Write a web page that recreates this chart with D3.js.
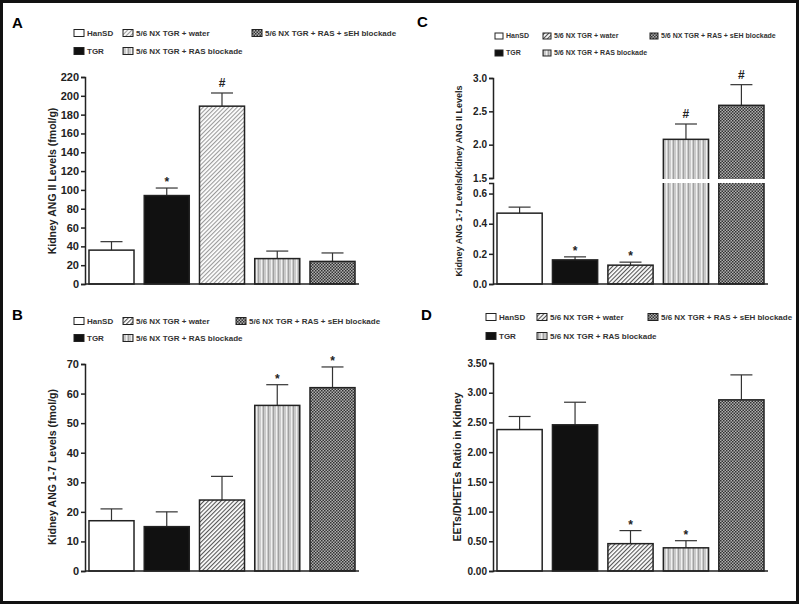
<!DOCTYPE html>
<html><head><meta charset="utf-8">
<script src="https://cdn.jsdelivr.net/npm/d3@7"></script>
<style>
body{margin:0;background:#fff;}
text{font-family:"Liberation Sans",Arial,sans-serif;}
</style></head>
<body><svg id="c" width="800" height="605"></svg>
<script>
const groups = ["HanSD","TGR","5/6 NX TGR + water","5/6 NX TGR + RAS blockade","5/6 NX TGR + RAS + sEH blockade"];
const angII = [36, 94, 189, 27, 24];
const angIIErr = [9, 8, 14, 8, 9];
const angIISig = ["", "*", "#", "", ""];
const ang17 = [17, 15, 24, 56, 62];
const ang17Err = [4, 5, 8, 7, 7];
const ang17Sig = ["", "", "", "*", "*"];
const ratio = [0.47, 0.16, 0.125, 2.08, 2.59];
const ratioErr = [0.04, 0.02, 0.02, 0.23, 0.31];
const ratioSig = ["", "*", "*", "#", "#"];
const eets = [2.38, 2.46, 0.46, 0.39, 2.88];
const eetsErr = [0.22, 0.38, 0.22, 0.12, 0.42];
const eetsSig = ["", "", "*", "*", ""];
const ticksA = [0,20,40,60,80,100,120,140,160,180,200,220];
const ticksB = [0,10,20,30,40,50,60,70];
const ticksCLow = [0,0.2,0.4,0.6];
const ticksCHigh = [1.5,2.0,2.5,3.0];
const ticksD = [0,0.5,1,1.5,2,2.5,3,3.5];

const svg = d3.select("#c");
const defs = svg.append("defs");
function diag(id, col){
  const p = defs.append("pattern").attr("id",id).attr("patternUnits","userSpaceOnUse").attr("width",3).attr("height",3).attr("patternTransform","rotate(45)");
  p.append("rect").attr("width",3).attr("height",3).attr("fill","#fff");
  p.append("rect").attr("x",0).attr("width",1.1).attr("height",3).attr("fill",col);
}
diag("diagL","#9a9a9a"); diag("diagD","#555");
{
  const p = defs.append("pattern").attr("id","vert").attr("patternUnits","userSpaceOnUse").attr("width",5).attr("height",5);
  p.append("rect").attr("width",5).attr("height",5).attr("fill","#cacaca");
  p.append("rect").attr("x",1).attr("width",1).attr("height",5).attr("fill","#f0f0f0");
  p.append("rect").attr("x",3).attr("width",1).attr("height",5).attr("fill","#a0a0a0");
}
{
  const p = defs.append("pattern").attr("id","check").attr("patternUnits","userSpaceOnUse").attr("width",3).attr("height",3);
  p.append("rect").attr("width",3).attr("height",3).attr("fill","#b0b0b0");
  p.append("rect").attr("width",1.5).attr("height",1.5).attr("fill","#333");
  p.append("rect").attr("x",1.5).attr("y",1.5).attr("width",1.5).attr("height",1.5).attr("fill","#333");
}
function fills(d){ return ["#fff","#111","url(#"+d+")","url(#vert)","url(#check)"]; }

svg.append("rect").attr("x",1.5).attr("y",1.5).attr("width",796).attr("height",601).attr("fill","none").attr("stroke","#111").attr("stroke-width",3);

function legend(g, cols, rows, fs, sw, sh){
  const pos = [[0,0],[0,1],[1,0],[1,1],[2,0]];
  groups.forEach((name,i)=>{
    const [c,r] = pos[i];
    const x = cols[c], y = rows[r];
    g.append("rect").attr("x",x).attr("y",y-sh/2).attr("width",sw).attr("height",sh)
      .attr("fill",g.fillsArr[i]).attr("stroke","#222").attr("stroke-width",1);
    g.append("text").attr("x",x+sw+3).attr("y",y).attr("dy","0.35em")
      .attr("font-size",fs).attr("font-weight","bold").attr("fill","#333").text(name);
  });
}

function panel(o){
  const g = svg.append("g");
  g.fillsArr = fills(o.diag);
  g.append("text").attr("x",o.lx).attr("y",o.ly).attr("font-size",15).attr("font-weight","bold").text(o.letter);
  legend(g, o.legCols, o.legRows, o.legFs, o.sw, o.sh);
  const x = d3.scaleBand().domain(groups).range([o.x0, o.x1]).paddingInner(0.185).paddingOuter(0.072);
  const scales = o.scales;
  scales.forEach(s=>{
    const ax = d3.axisLeft(s.y).tickValues(s.ticks).tickFormat(d3.format(s.fmt)).tickSize(4).tickPadding(2);
    const a = g.append("g").attr("transform",`translate(${o.x0},0)`).call(ax);
    a.selectAll("text").attr("font-size",o.tfs).attr("font-weight","bold").attr("fill","#222").attr("font-family","Liberation Sans, Arial, sans-serif");
    a.selectAll("path,line").attr("stroke","#222").attr("stroke-width",1.5);
  });
  const ybase = scales[0].y(0);
  const vals = o.vals;
  vals.forEach((v,i)=>{
    const bx = x(groups[i]), bw = x.bandwidth();
    const top = o.valY(v), errTop = o.valY(v + o.errs[i]);
    const cx = bx + bw/2;
    g.append("line").attr("x1",cx).attr("x2",cx).attr("y1",top).attr("y2",errTop).attr("stroke","#333").attr("stroke-width",1.2);
    g.append("line").attr("x1",cx-11).attr("x2",cx+11).attr("y1",errTop).attr("y2",errTop).attr("stroke","#333").attr("stroke-width",1.2);
    g.append("rect").attr("x",bx).attr("y",top).attr("width",bw).attr("height",ybase-top)
      .attr("fill",g.fillsArr[i]).attr("stroke","#222").attr("stroke-width",1.5);
    if (o.split && v > o.split.lowMax){
      const lt = o.split.lowY(o.split.lowMax);
      g.append("rect").attr("x",bx-2).attr("y",o.split.gapTop).attr("width",bw+4).attr("height",lt-o.split.gapTop)
        .attr("fill","#fff");
    }
    const s = o.sig[i];
    if (s){
      g.append("text").attr("x",cx).attr("y", s==="*" ? errTop-2 : errTop-6).attr("text-anchor","middle")
        .attr("font-size",12).attr("font-weight","bold").attr("fill","#222").text(s);
    }
  });
  g.append("line").attr("x1",o.x0).attr("x2",o.x1).attr("y1",ybase).attr("y2",ybase).attr("stroke","#222").attr("stroke-width",1.5);
  g.append("text").attr("transform",`translate(${o.ylx},${o.ylc}) rotate(-90)`).attr("text-anchor","middle").attr("dy","0.35em")
    .attr("font-size",o.ylfs).attr("font-weight","bold").attr("fill","#222").text(o.ylabel);
}

const yA = d3.scaleLinear().domain([0,220]).range([284,77]);
panel({letter:"A",lx:12,ly:28,diag:"diagL",legCols:[74,123,252],legRows:[33,51],legFs:8,sw:10,sh:7,
  x0:85,x1:359,scales:[{y:yA,ticks:ticksA,fmt:"d"}],tfs:11,vals:angII,errs:angIIErr,sig:angIISig,
  valY:v=>yA(v),ylx:52,ylc:181,ylfs:10.5,ylabel:"Kidney ANG II Levels (fmol/g)"});

const yB = d3.scaleLinear().domain([0,70]).range([571,364]);
panel({letter:"B",lx:12,ly:320,diag:"diagD",legCols:[74,123,236],legRows:[321,338],legFs:8,sw:10,sh:7,
  x0:85,x1:359,scales:[{y:yB,ticks:ticksB,fmt:"d"}],tfs:11,vals:ang17,errs:ang17Err,sig:ang17Sig,
  valY:v=>yB(v),ylx:52,ylc:467,ylfs:10.5,ylabel:"Kidney ANG 1-7 Levels (fmol/g)"});

const yCl = d3.scaleLinear().domain([0,0.67]).range([284,183]);
const yCh = d3.scaleLinear().domain([1.5,3.0]).range([178,78]);
panel({letter:"C",lx:417,ly:27,diag:"diagD",legCols:[495,543,650],legRows:[36,53],legFs:7,sw:8,sh:6,
  x0:493,x1:768,scales:[{y:yCl,ticks:ticksCLow,fmt:".1f"},{y:yCh,ticks:ticksCHigh,fmt:".1f"}],tfs:10,
  vals:ratio,errs:ratioErr,sig:ratioSig,valY:v=>v>0.67?yCh(v):yCl(v),
  split:{lowMax:0.67,lowY:yCl,gapTop:179},
  ylx:459,ylc:181,ylfs:9,ylabel:"Kidney ANG 1-7 Levels/Kidney ANG II Levels"});

const yD = d3.scaleLinear().domain([0,3.5]).range([571,363]);
panel({letter:"D",lx:421,ly:320,diag:"diagD",legCols:[486,537,648],legRows:[317,336],legFs:8,sw:10,sh:7,
  x0:493,x1:768,scales:[{y:yD,ticks:ticksD,fmt:".2f"}],tfs:10,vals:eets,errs:eetsErr,sig:eetsSig,
  valY:v=>yD(v),ylx:457,ylc:467,ylfs:10.5,ylabel:"EETs/DHETEs Ratio in Kidney"});
</script></body></html>
